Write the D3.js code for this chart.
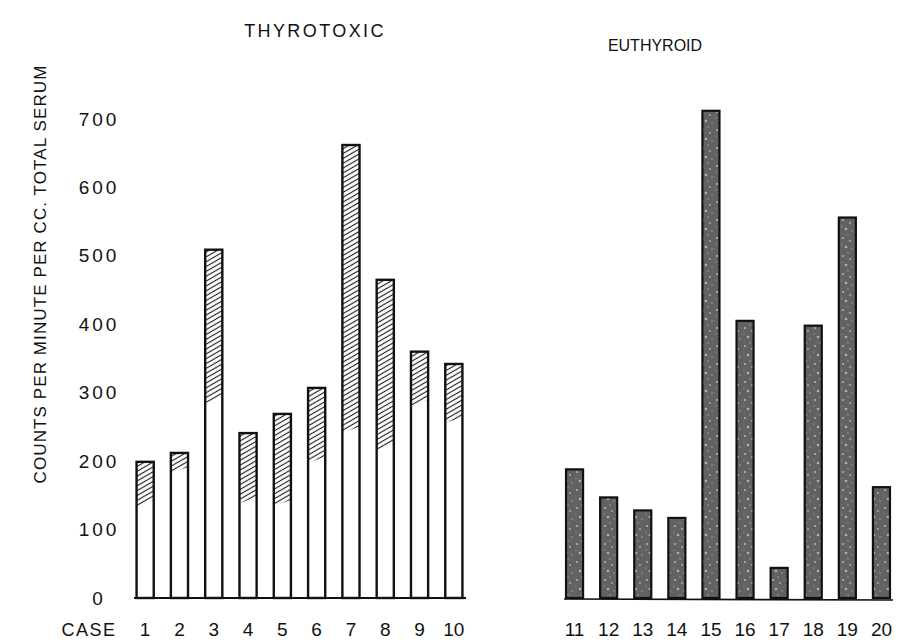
<!DOCTYPE html>
<html lang="en">
<head>
    <meta charset="UTF-8">
    <title>Thyrotoxic vs Euthyroid serum counts</title>
    <script src="https://d3js.org/d3.v7.min.js"></script>
    <style>
        body {
            margin: 0;
            padding: 0;
            background: #fff;
        }
        svg {
            font-family: "Liberation Sans", Arial, sans-serif;
            display: block;
        }
        .tick line, .domain {
            display: none;
        }
    </style>
</head>
<body>
    <svg width="902" height="643"></svg>

    <script>
        // Data
        const leftCases = ["1", "2", "3", "4", "5", "6", "7", "8", "9", "10"];
        const leftValues = [199, 212, 509, 241, 269, 307, 662, 465, 360, 342];
        // lower end of the hatched part of each thyrotoxic bar
        const leftHatchFrom = [139, 187, 289, 143, 139, 202, 246, 221, 285, 260];

        const rightCases = ["11", "12", "13", "14", "15", "16", "17", "18", "19", "20"];
        const rightValues = [188, 147, 128, 117, 712, 405, 44, 398, 556, 162];

        const yTicks = [0, 100, 200, 300, 400, 500, 600, 700];

        const svg = d3.select("svg");

        const y = d3.scaleLinear().domain([0, 700]).range([598, 119]);

        const xLeft = d3.scaleBand()
            .domain(leftCases)
            .range([128, 471])
            .paddingInner(0.5)
            .paddingOuter(0.25);

        const xRight = d3.scaleBand()
            .domain(rightCases)
            .range([557.5, 898.5])
            .paddingInner(0.5)
            .paddingOuter(0.25);

        // Patterns: diagonal hatching and speckled dark fill
        const defs = svg.append("defs");

        const hatch = defs.append("pattern")
            .attr("id", "hatch")
            .attr("patternUnits", "userSpaceOnUse")
            .attr("width", 4.2)
            .attr("height", 4.2)
            .attr("patternTransform", "rotate(-30)");
        hatch.append("rect").attr("width", 4.2).attr("height", 4.2).attr("fill", "#fff");
        hatch.append("line")
            .attr("x1", 0).attr("y1", 2.1).attr("x2", 4.2).attr("y2", 2.1)
            .attr("stroke", "#1a1a1a").attr("stroke-width", 1.1);

        const speckle = defs.append("pattern")
            .attr("id", "speckle")
            .attr("patternUnits", "userSpaceOnUse")
            .attr("width", 14)
            .attr("height", 18);
        speckle.append("rect").attr("width", 14).attr("height", 18).attr("fill", "#626262");
        [[3, 4, 1.1], [10, 7, 0.9], [6, 13, 1.3], [12, 15, 0.7], [2, 10, 0.6], [8, 1, 0.7]]
            .forEach(([cx, cy, r]) => {
                speckle.append("circle")
                    .attr("cx", cx).attr("cy", cy).attr("r", r)
                    .attr("fill", "#b0b0b0");
            });

        // Titles
        svg.append("text")
            .attr("x", 315)
            .attr("y", 37)
            .attr("text-anchor", "middle")
            .attr("font-size", 18)
            .attr("letter-spacing", 2.4)
            .attr("fill", "#111")
            .text("THYROTOXIC");

        svg.append("text")
            .attr("x", 655)
            .attr("y", 51)
            .attr("text-anchor", "middle")
            .attr("font-size", 16)
            .attr("fill", "#111")
            .text("EUTHYROID");

        // Y axis title
        svg.append("text")
            .attr("transform", "translate(46, 274) rotate(-90)")
            .attr("text-anchor", "middle")
            .attr("font-size", 17)
            .attr("letter-spacing", 1.1)
            .attr("fill", "#111")
            .text("COUNTS PER MINUTE PER CC. TOTAL SERUM");

        // Y tick labels
        const yAxis = svg.append("g")
            .attr("transform", "translate(99, 0)")
            .call(d3.axisLeft(y).tickValues(yTicks).tickSize(0));
        yAxis.selectAll("text")
            .attr("x", 0)
            .attr("text-anchor", "middle")
            .attr("font-size", 19)
            .attr("letter-spacing", 3)
            .attr("font-family", "Liberation Sans, Arial, sans-serif")
            .attr("fill", "#111");

        // Left group: thyrotoxic bars
        const left = svg.append("g");

        left.selectAll(".bar")
            .data(leftCases)
            .join("rect")
            .attr("class", "bar")
            .attr("x", d => xLeft(d))
            .attr("y", (d, i) => y(leftValues[i]))
            .attr("width", xLeft.bandwidth())
            .attr("height", (d, i) => y(0) - y(leftValues[i]))
            .attr("fill", "#fff");

        left.selectAll(".hatched")
            .data(leftCases)
            .join("path")
            .attr("class", "hatched")
            .attr("d", (d, i) => {
                const x0 = xLeft(d), x1 = x0 + xLeft.bandwidth();
                const top = y(leftValues[i]), bot = y(leftHatchFrom[i]);
                return `M${x0},${top}L${x1},${top}L${x1},${bot - 3}L${x0},${bot + 3}Z`;
            })
            .attr("fill", "url(#hatch)");

        left.selectAll(".outline")
            .data(leftCases)
            .join("rect")
            .attr("class", "outline")
            .attr("x", d => xLeft(d))
            .attr("y", (d, i) => y(leftValues[i]))
            .attr("width", xLeft.bandwidth())
            .attr("height", (d, i) => y(0) - y(leftValues[i]))
            .attr("fill", "none")
            .attr("stroke", "#111")
            .attr("stroke-width", 2.4);

        left.append("line")
            .attr("x1", 134).attr("x2", 466)
            .attr("y1", y(0)).attr("y2", y(0))
            .attr("stroke", "#111")
            .attr("stroke-width", 2);

        // Right group: euthyroid bars
        const right = svg.append("g");

        right.append("line")
            .attr("x1", 564).attr("x2", 893)
            .attr("y1", y(0) + 1).attr("y2", y(0) + 2)
            .attr("stroke", "#111")
            .attr("stroke-width", 1.6);

        right.selectAll(".bar")
            .data(rightCases)
            .join("rect")
            .attr("class", "bar")
            .attr("x", d => xRight(d))
            .attr("y", (d, i) => y(rightValues[i]))
            .attr("width", xRight.bandwidth())
            .attr("height", (d, i) => y(0) - y(rightValues[i]))
            .attr("fill", "url(#speckle)")
            .attr("stroke", "#111")
            .attr("stroke-width", 2.2);

        // Case labels
        svg.append("text")
            .attr("x", 89)
            .attr("y", 636)
            .attr("text-anchor", "middle")
            .attr("font-size", 18)
            .attr("letter-spacing", 1.5)
            .attr("fill", "#111")
            .text("CASE");

        [xLeft, xRight].forEach(scale => {
            const g = svg.append("g")
                .attr("transform", "translate(0, 619)")
                .call(d3.axisBottom(scale).tickSize(0));
            g.selectAll("text")
                .attr("font-size", 19)
                .attr("font-family", "Liberation Sans, Arial, sans-serif")
                .attr("fill", "#111");
        });
    </script>
</body>
</html>
